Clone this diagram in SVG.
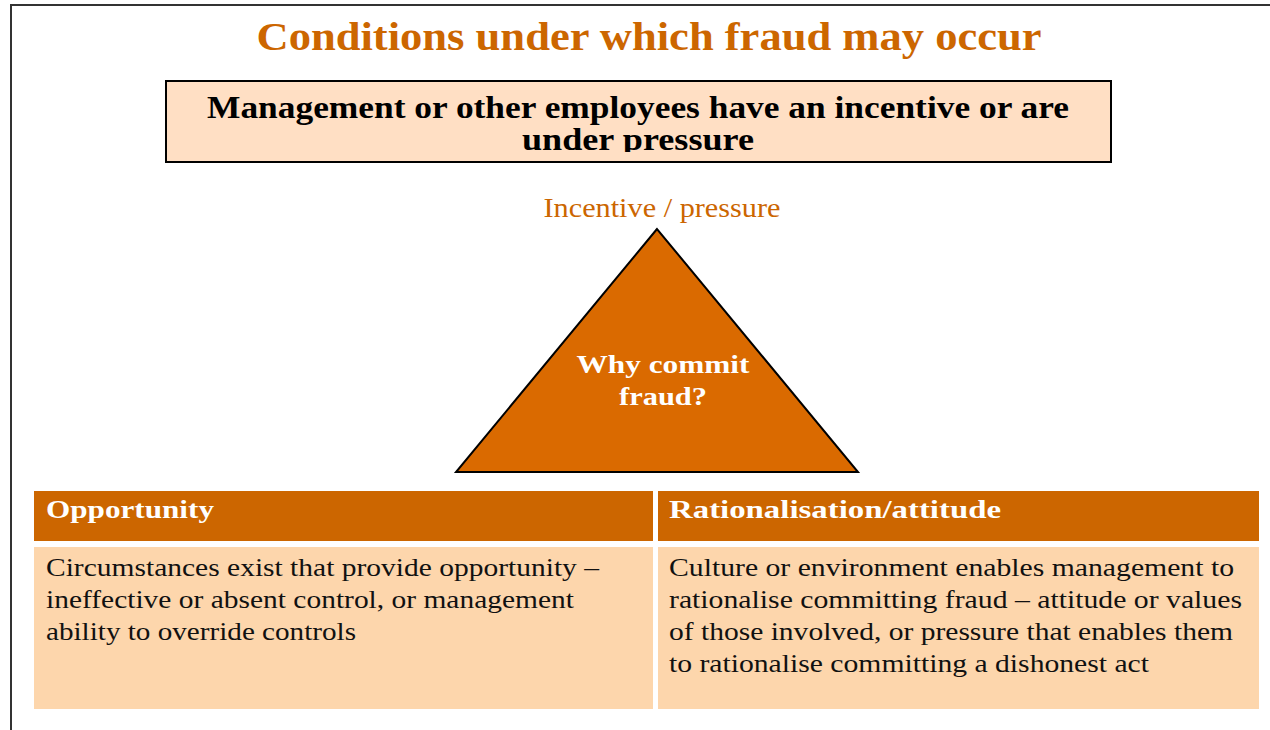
<svg xmlns="http://www.w3.org/2000/svg" width="1270" height="730" viewBox="0 0 1270 730">
<style>
.f{font-family:"Liberation Serif","Times New Roman",serif}
.title{font-size:41px;font-weight:bold;fill:#CC6600}
.hb{font-size:31px;font-weight:bold;fill:#000}
.lbl{font-size:27px;fill:#CC6600}
.tri{font-size:26px;font-weight:bold;fill:#fff}
.th{font-size:25px;font-weight:bold;fill:#fff}
.td{font-size:26px;fill:#111}
</style>
<defs>
<clipPath id="hc"><rect x="166" y="81" width="945" height="71"/></clipPath>
</defs>
<rect width="1270" height="730" fill="#fff"/>
<path d="M11,730 V5 H1270" fill="none" stroke="#333" stroke-width="2"/>
<text class="f title" x="649" y="50" text-anchor="middle" textLength="785" lengthAdjust="spacingAndGlyphs">Conditions under which fraud may occur</text>
<g id="header">
<rect x="166" y="81" width="945" height="81" fill="#FFDFC4" stroke="#000" stroke-width="2"/>
<g clip-path="url(#hc)">
<text class="f hb" x="638" y="118" text-anchor="middle" textLength="862" lengthAdjust="spacingAndGlyphs">Management or other employees have an incentive or are</text>
<text class="f hb" x="638" y="150" text-anchor="middle" textLength="232" lengthAdjust="spacingAndGlyphs">under pressure</text>
</g>
</g>
<g id="triangle">
<text class="f lbl" x="662" y="217" text-anchor="middle" textLength="237" lengthAdjust="spacingAndGlyphs">Incentive / pressure</text>
<polygon points="657,229 456,472 858,472" fill="#DA6A00" stroke="#000" stroke-width="2"/>
<text class="f tri" x="663" y="373" text-anchor="middle" textLength="173" lengthAdjust="spacingAndGlyphs">Why commit</text>
<text class="f tri" x="663" y="405" text-anchor="middle" textLength="88" lengthAdjust="spacingAndGlyphs">fraud?</text>
</g>
<g id="opportunity">
<rect x="34" y="491" width="619" height="50" fill="#CC6600"/>
<text class="f th" x="46" y="518" textLength="168" lengthAdjust="spacingAndGlyphs">Opportunity</text>
<rect x="34" y="547" width="619" height="162" fill="#FDD6AC"/>
<text class="f td" x="46" y="576" textLength="553" lengthAdjust="spacingAndGlyphs">Circumstances exist that provide opportunity –</text>
<text class="f td" x="46" y="608" textLength="528" lengthAdjust="spacingAndGlyphs">ineffective or absent control, or management</text>
<text class="f td" x="46" y="640" textLength="310" lengthAdjust="spacingAndGlyphs">ability to override controls</text>
</g>
<g id="rationalisation">
<rect x="658" y="491" width="601" height="50" fill="#CC6600"/>
<text class="f th" x="669" y="518" textLength="332" lengthAdjust="spacingAndGlyphs">Rationalisation/attitude</text>
<rect x="658" y="547" width="601" height="162" fill="#FDD6AC"/>
<text class="f td" x="669" y="576" textLength="565" lengthAdjust="spacingAndGlyphs">Culture or environment enables management to</text>
<text class="f td" x="669" y="608" textLength="573" lengthAdjust="spacingAndGlyphs">rationalise committing fraud – attitude or values</text>
<text class="f td" x="669" y="640" textLength="564" lengthAdjust="spacingAndGlyphs">of those involved, or pressure that enables them</text>
<text class="f td" x="669" y="672" textLength="480" lengthAdjust="spacingAndGlyphs">to rationalise committing a dishonest act</text>
</g>
<g id="connectors"/>
</svg>
